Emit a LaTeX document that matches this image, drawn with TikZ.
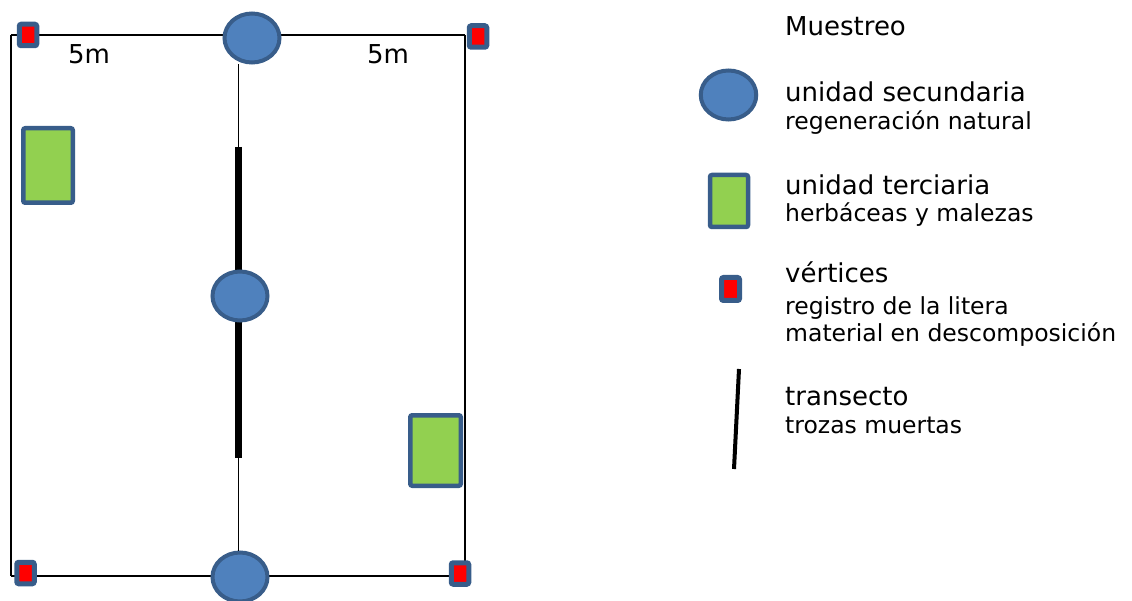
\documentclass[tikz,border=0pt]{standalone}
\usepackage{fontspec}
\setmainfont{DejaVu Sans}
\usetikzlibrary{shapes.geometric}
\definecolor{ublue}{HTML}{4F81BD}
\definecolor{uborder}{HTML}{385D8A}
\definecolor{ugreen}{HTML}{92D050}
\definecolor{ured}{HTML}{FF0000}
\tikzset{
  secu/.style={ellipse, draw=uborder, fill=ublue, line width=4pt, minimum width=55pt, minimum height=49pt, inner sep=0pt},
  terc/.style={rectangle, rounded corners=2pt, draw=uborder, fill=ugreen, line width=4.5pt, inner sep=0pt},
  vert/.style={rectangle, rounded corners=2pt, draw=uborder, fill=ured, line width=5pt, minimum width=17.5pt, minimum height=21.5pt, inner sep=0pt},
  border/.style={draw=black, line width=2pt},
  side/.style={draw=black, line width=1.5pt},
  axis/.style={draw=black, line width=1pt},
  bar/.style={draw=black, line width=7pt},
  big/.style={anchor=base west, inner sep=0pt, font=\fontsize{26}{30}\selectfont},
  small/.style={anchor=base west, inner sep=0pt, font=\fontsize{23.5}{28}\selectfont},
}
\begin{document}
\begin{tikzpicture}[x=1pt, y=-1pt]
\useasboundingbox (0,0) rectangle (1132,601);
% frame corners
\coordinate (c1) at (11,35);
\coordinate (c2) at (465,35);
\coordinate (c3) at (465,576);
\coordinate (c4) at (11,576);
\coordinate (bt) at (238,147);
\coordinate (bb) at (238,458);
% frame
\draw[border] (c1) -- (c2);
\draw[border] (c4) -- (c3);
\draw[side] (c1) -- (c4);
\draw[side] (c2) -- (c3);
% ellipses
\node[secu] (etop) at (252,38) {};
\node[secu] (ebot) at (240,577) {};
% central axis and transect bar
\draw[axis] (etop.south -| bt) -- (ebot.north -| bt);
\draw[bar] (bt) -- (bb);
\node[secu] (emid) at (240,296) {};
% tertiary units
\node[terc, minimum width=49.5pt, minimum height=74.5pt] (gleft) at (48,165.5) {};
\node[terc, minimum width=50.5pt, minimum height=70.5pt] (gright) at (435.5,450.5) {};
% vertices
\node[vert] (v1) at (28,35) {};
\node[vert] (v2) at (478,36.5) {};
\node[vert] (v3) at (460,573.5) {};
\node[vert] (v4) at (25.5,573) {};
% distance labels
\node[big] (d1) at (68,64) {5m};
\node[big] (d2) at (367,64) {5m};
% legend
\node[big] (title) at (785,36) {Muestreo};
\node[secu, minimum width=55.5pt] (lsecu) at (728.5,95) {};
\node[big] (t1) at (785,102) {unidad secundaria};
\node[small] (s1) at (785,130) {regeneración natural};
\node[terc, minimum width=38pt, minimum height=52pt] (lterc) at (729,201) {};
\node[big] (t2) at (785,195) {unidad terciaria};
\node[small] (s2) at (785,222) {herbáceas y malezas};
\node[vert, minimum width=18pt, minimum height=23pt] (lvert) at (730.5,289) {};
\node[big] (t3) at (785,283) {vértices};
\node[small] (s3) at (785,315) {registro de la litera};
\node[small] (s4) at (785,342) {material en descomposición};
\coordinate (lt1) at (739,369);
\coordinate (lt2) at (734,469);
\draw[black, line width=4pt] (lt1) -- (lt2);
\node[big] (t4) at (785,405) {transecto};
\node[small] (s5) at (785,433) {trozas muertas};
\end{tikzpicture}
\end{document}
